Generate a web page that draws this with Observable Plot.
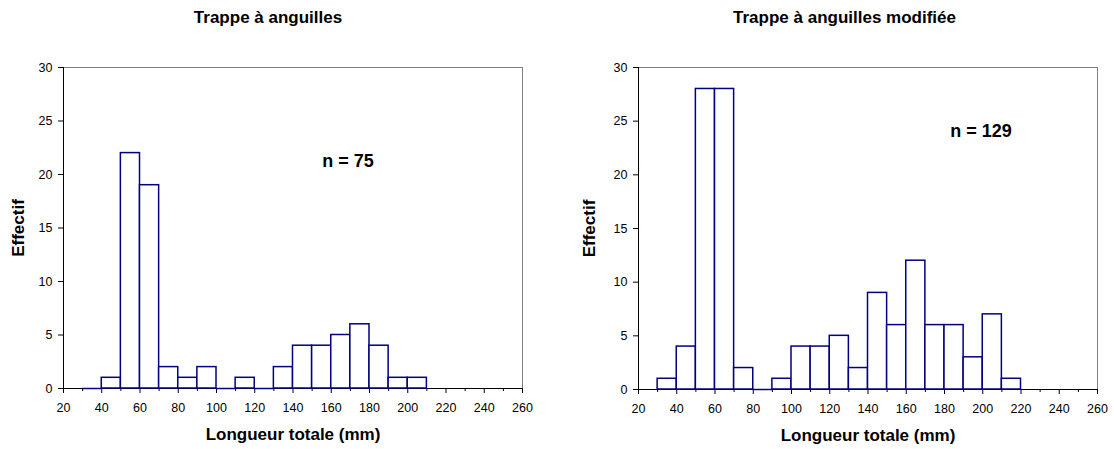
<!DOCTYPE html>
<html>
<head>
<meta charset="utf-8">
<script src="https://cdn.jsdelivr.net/npm/d3@7"></script>
<script src="https://cdn.jsdelivr.net/npm/@observablehq/plot@0.6"></script>
<style>
  html, body { margin: 0; padding: 0; background: white; }
  #wrap { display: flex; width: 1114px; height: 449px; }
</style>
</head>
<body>
<div id="wrap"></div>
<script>
// Bin lower edges (mm), bin width 10
const binStarts = [30, 40, 50, 60, 70, 80, 90, 100, 110, 120, 130, 140, 150, 160, 170, 180, 190, 200, 210];
// Counts — "Trappe à anguilles" (n = 75)
const countsTrappe = [0, 1, 22, 19, 2, 1, 2, 0, 1, 0, 2, 4, 4, 5, 6, 4, 1, 1, null];
// Counts — "Trappe à anguilles modifiée" (n = 129)
const countsModifiee = [1, 4, 28, 28, 2, 0, 1, 4, 4, 5, 2, 9, 6, 12, 6, 6, 3, 7, 1];
const titles = ["Trappe à anguilles", "Trappe à anguilles modifiée"];
const nLabels = ["n = 75", "n = 129"];
const xTicks = [20, 40, 60, 80, 100, 120, 140, 160, 180, 200, 220, 240, 260];
const xMinorTicks = [30, 50, 70, 90, 110, 130, 150, 170, 190, 210, 230, 250];
const yTicks = [0, 5, 10, 15, 20, 25, 30];
const xLabel = "Longueur totale (mm)";
const yLabel = "Effectif";

const NAVY = "#000080";
const FONT = "'Liberation Sans', Arial, Helvetica, sans-serif";

function histogram(counts, title, nLabel, cfg) {
  const data = binStarts
    .map((b, i) => ({x1: b, x2: b + 10, y: counts[i]}))
    .filter(d => d.y !== null && d.y !== undefined);
  const boldText = {fontWeight: "bold", fontSize: 17, fill: "black", textAnchor: "middle", lineAnchor: "middle"};
  return Plot.plot({
    width: 557,
    height: 449,
    marginLeft: cfg.ml,
    marginRight: cfg.mr,
    marginTop: cfg.mt,
    marginBottom: cfg.mb,
    style: {fontFamily: FONT, fontSize: "12.5px", color: "black", background: "white", overflow: "visible"},
    x: {domain: [20, 260]},
    y: {domain: [0, 30]},
    marks: [
      Plot.ruleY([30], {stroke: "#808080", strokeWidth: 1}),
      Plot.ruleX([260], {stroke: "#808080", strokeWidth: 1}),
      Plot.axisX({ticks: xTicks, tickSize: 5, tickPadding: 10, label: null, tickFormat: d => String(d), stroke: "black", fill: "black"}),
      Plot.axisX({ticks: xMinorTicks, tickSize: 3, text: null, label: null, stroke: "black"}),
      Plot.axisY({ticks: yTicks, tickSize: 5, tickPadding: 6, label: null, tickFormat: d => String(d), stroke: "black", fill: "black"}),
      Plot.ruleY([0], {stroke: "black", strokeWidth: 1}),
      Plot.ruleX([20], {stroke: "black", strokeWidth: 1}),
      Plot.rectY(data.filter(d => d.y > 0), {x1: "x1", x2: "x2", y: "y", fill: "white", stroke: NAVY, strokeWidth: 1.5}),
      Plot.ruleY(data.filter(d => d.y === 0), {x1: "x1", x2: "x2", y: "y", stroke: NAVY, strokeWidth: 1.5}),
      Plot.text([title], {frameAnchor: "top", dx: cfg.titleDx, dy: -50, ...boldText}),
      Plot.text([nLabel], {frameAnchor: "top-left", dx: cfg.nDx, dy: cfg.nDy, ...boldText, fontSize: 18}),
      Plot.text([xLabel], {frameAnchor: "bottom", dy: 46.5, ...boldText}),
      Plot.text([yLabel], {frameAnchor: "left", dx: cfg.yLabDx, rotate: -90, ...boldText})
    ]
  });
}

const wrap = document.getElementById("wrap");
wrap.appendChild(histogram(countsTrappe, titles[0], nLabels[0],
  {ml: 63, mr: 35, mt: 67, mb: 61, titleDx: -25, nDx: 284.5, nDy: 94, yLabDx: -45}));
wrap.appendChild(histogram(countsModifiee, titles[1], nLabels[1],
  {ml: 81, mr: 17, mt: 67, mb: 60, titleDx: -23.5, nDx: 342.5, nDy: 63.5, yLabDx: -48.7}));
</script>
</body>
</html>
